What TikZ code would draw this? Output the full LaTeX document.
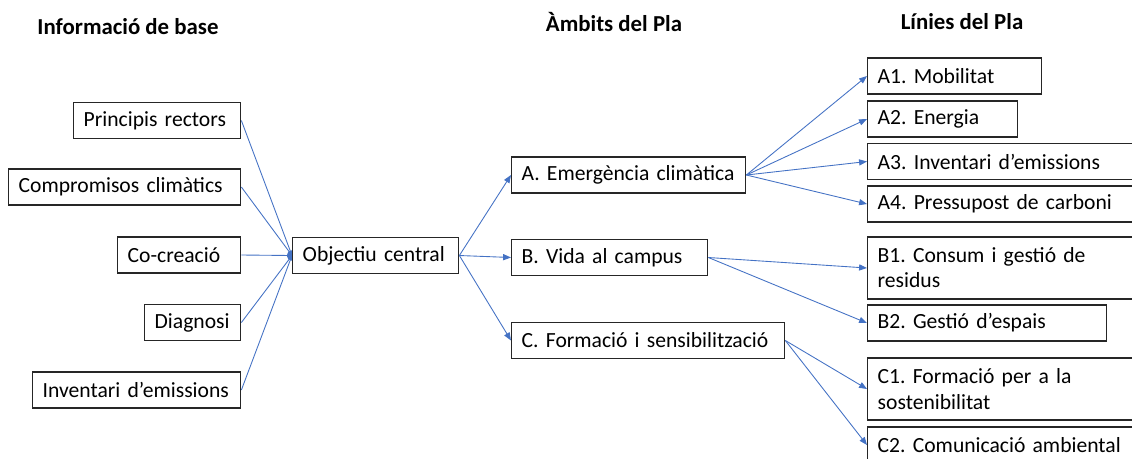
\documentclass[tikz,border=0pt]{standalone}
\usepackage{fontspec}
\setmainfont{Carlito}
\frenchspacing
\usetikzlibrary{arrows.meta}
\pgfdeclarelayer{background}
\pgfsetlayers{background,main}
\definecolor{lijn}{HTML}{4472C4}
\tikzset{
  kader/.style={draw=black!85, line width=0.8pt, fill=white, anchor=west,
    align=left, inner xsep=0.2cm, inner ysep=0pt, minimum height=0.72cm,
    font=\fontsize{12.3}{14.3}\selectfont},
  kop/.style={font=\fontsize{13}{15}\selectfont\bfseries},
  pijl/.style={draw=lijn, line width=0.5pt, -{Triangle[length=4.5pt,width=3.5pt]}},
  bol/.style={draw=lijn, line width=0.5pt}
}
\begin{document}
\begin{tikzpicture}[x=0.02cm,y=-0.02cm]
\useasboundingbox (0,0) rectangle (1132,458);
\clip (0,0) rectangle (1132,458);
% titols
\node[kop] (tbase) at (128,27) {Informació de base};
\node[kop] (tambit) at (614,22) {Àmbits del Pla};
\node[kop] (tlinia) at (962,22) {Línies del Pla};
% informacio de base
\node[kader, text width=2.94cm] (princ) at (73,120.5) {Principis rectors};
\node[kader, text width=4.24cm] (comp) at (8,187) {Compromisos climàtics};
\node[kader, text width=2.06cm] (cocr) at (117,255) {Co-creació};
\node[kader, text width=1.52cm] (diag) at (144,322.5) {Diagnosi};
\node[kader, text width=3.76cm] (inv) at (32,390) {Inventari d’emissions};
\node[kader, text width=2.92cm] (obj) at (292,255.5) {Objectiu central};
% ambits
\node[kader, text width=4.28cm] (A) at (511,175) {A. Emergència climàtica};
\node[kader, text width=3.52cm] (B) at (511,257.5) {B. Vida al campus};
\node[kader, text width=5.06cm] (C) at (511,340.5) {C. Formació i sensibilització};
% linies
\node[kader, text width=3.08cm] (A1) at (867,76) {A1. Mobilitat};
\node[kader, text width=2.60cm] (A2) at (867,119) {A2. Energia};
\node[kader, text width=5.10cm] (A3) at (867,161.5) {A3. Inventari d'emissions};
\node[kader, text width=5.10cm] (A4) at (867,204) {A4. Pressupost de carboni};
\node[kader, text width=5.10cm, minimum height=1.24cm] (B1) at (867,268) {B1. Consum i gestió de\\residus};
\node[kader, text width=4.38cm] (B2) at (867,323) {B2. Gestió d’espais};
\node[kader, text width=5.10cm, minimum height=1.24cm] (C1) at (867,389) {C1. Formació per a la\\sostenibilitat};
\node[kader, text width=5.10cm] (C2) at (867,445) {C2. Comunicació ambiental};
% connectors
\begin{pgfonlayer}{background}
\foreach \n in {princ,comp,cocr,diag,inv}
  \draw[bol] (\n.east) -- (obj.west);
\fill[lijn] (obj.west) circle (3pt);
\foreach \n in {A,B,C}
  \draw[pijl] (obj.east) -- (\n.west);
\foreach \n in {A1,A2,A3,A4}
  \draw[pijl] (A.east) -- (\n.west);
\foreach \n in {B1,B2}
  \draw[pijl] (B.east) -- (\n.west);
\foreach \n in {C1,C2}
  \draw[pijl] (C.east) -- (\n.west);
\end{pgfonlayer}
\end{tikzpicture}
\end{document}
